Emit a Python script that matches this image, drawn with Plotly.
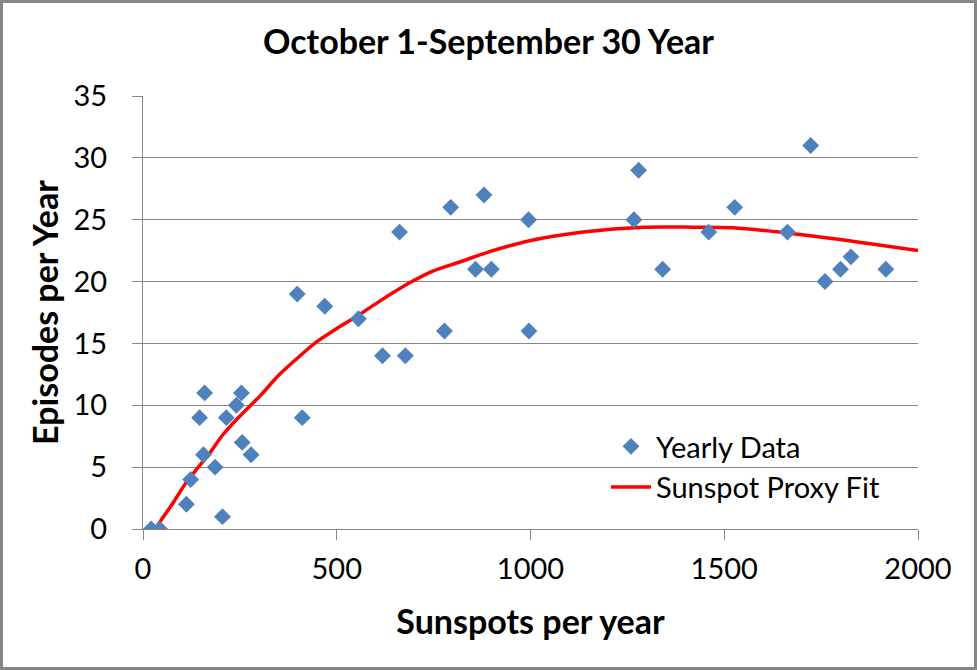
import plotly.graph_objects as go

# --- yearly data ---
sunspots = [21, 43, 112, 123, 146, 156, 159, 186, 205, 215, 241, 254, 256, 279,
            398, 411, 469, 556, 618, 662, 677, 778, 794, 858, 880, 899, 995, 996,
            1267, 1279, 1341, 1460, 1527, 1663, 1723, 1760, 1800, 1827, 1917]
episodes = [0, 0, 2, 4, 9, 6, 11, 5, 1, 9, 10, 11, 7, 6,
            19, 9, 18, 17, 14, 24, 14, 16, 26, 21, 27, 21, 25, 16,
            25, 29, 21, 24, 26, 24, 31, 20, 21, 22, 21]

# --- proxy fit curve, sampled from the red line ---
fit_x = [38, 47, 77, 107, 137, 172, 206, 249, 301, 352, 404, 447, 507, 559,
         611, 688, 748, 817, 903, 998, 1136, 1291, 1420, 1523, 1695, 1867, 2000]
fit_y = [0.3, 0.73, 2.08, 3.56, 4.78, 6.13, 7.62, 9.1, 10.72, 12.48, 13.96,
         15.1, 16.34, 17.34, 18.42, 19.9, 20.85, 21.58, 22.5, 23.3, 24.0, 24.4,
         24.4, 24.35, 23.8, 23.1, 22.5]

FONT = "Lato"
GRID = "#868686"

fig = go.Figure()

fig.add_trace(go.Scatter(
    x=fit_x, y=fit_y,
    mode="lines",
    name="Sunspot Proxy Fit",
    line=dict(color="#FF0000", width=3.5, shape="spline", smoothing=0.8),
    legendrank=2,
))

fig.add_trace(go.Scatter(
    x=sunspots, y=episodes,
    mode="markers",
    name="Yearly Data",
    marker=dict(symbol="diamond", color="#4F81BD", size=13),
    legendrank=1,
))

# plot area edges in pixels: l=143, r=59, t=96, b=141 -> 775 x 433
pw, ph = 775, 433

fig.update_layout(
    width=977, height=670,
    margin=dict(l=143, r=59, t=96, b=141),
    paper_bgcolor="white",
    plot_bgcolor="white",
    font=dict(family=FONT, color="black", size=29),
    title=dict(
        text="<b>October 1-September 30 Year</b>",
        x=0.5, xanchor="center",
        y=1 - 42 / 670, yanchor="middle",
        font=dict(family=FONT, size=34, color="black"),
    ),
    xaxis=dict(
        range=[0, 2000], dtick=500, tick0=0,
        showgrid=False, zeroline=False,
        showline=True, linecolor=GRID, linewidth=1,
        ticks="outside", ticklen=10, tickcolor=GRID,
        tickfont=dict(size=29),
        ticklabelstandoff=4,
        title=dict(text="<b>Sunspots per year</b>", font=dict(size=34), standoff=26),
    ),
    yaxis=dict(
        range=[0, 35], dtick=5, tick0=0,
        showgrid=True, gridcolor=GRID, gridwidth=1,
        zeroline=False,
        showline=True, linecolor=GRID, linewidth=1,
        ticks="outside", ticklen=10, tickcolor=GRID,
        tickfont=dict(size=29),
        ticklabelstandoff=19,
        title=dict(text="<b>Episodes per Year</b>", font=dict(size=34), standoff=4),
    ),
    legend=dict(
        x=(606 - 143) / pw, xanchor="left",
        y=(529 - 421) / ph, yanchor="top",
        bgcolor="rgba(0,0,0,0)",
        font=dict(size=29),
        itemwidth=40,
        tracegroupgap=0,
    ),
    showlegend=True,
    shapes=[dict(
        type="rect", xref="paper", yref="paper",
        x0=(1.5 - 143) / pw, x1=(975.5 - 143) / pw,
        y0=(1.5 - 141) / ph, y1=(668.5 - 141) / ph,
        line=dict(color=GRID, width=3),
        fillcolor="rgba(0,0,0,0)",
        layer="below",
    )],
)

fig.write_html(
    "out.html",
    config={"displayModeBar": False},
    post_script="document.body.style.margin='0';document.body.style.overflow='hidden';",
)
